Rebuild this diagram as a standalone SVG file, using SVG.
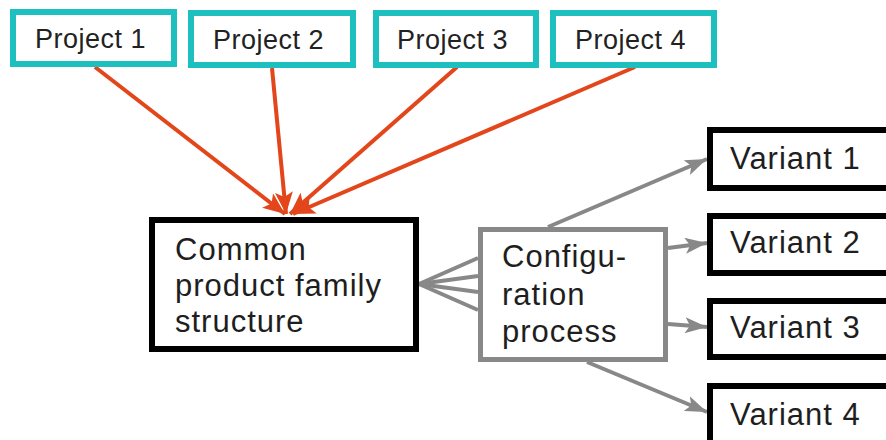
<svg xmlns="http://www.w3.org/2000/svg" width="886" height="440" viewBox="0 0 886 440">
  <style>
    .proj rect { fill: #ffffff; stroke: #1ebfbf; stroke-width: 6; }
    .proj text { font-family: "Liberation Sans", Arial, sans-serif; font-size: 27px; letter-spacing: 0.5px; fill: #222222; }
    .blk rect { fill: #ffffff; stroke: #000000; stroke-width: 6; }
    .cfg rect { fill: #ffffff; stroke: #888888; stroke-width: 5; }
    .big { font-family: "Liberation Sans", Arial, sans-serif; font-size: 31px; letter-spacing: 1px; fill: #1e1e1e; }
    .feed { stroke: #e2461a; stroke-width: 4; fill: none; }
    .flow { stroke: #888888; stroke-width: 4; fill: none; }
  </style>
  <defs>
    <marker id="headOrange" markerUnits="userSpaceOnUse" markerWidth="24" markerHeight="18" refX="22" refY="9" orient="auto">
      <path d="M0,0 L22,9 L0,18 L5,9 Z" fill="#e2461a"/>
    </marker>
    <marker id="headGray" markerUnits="userSpaceOnUse" markerWidth="24" markerHeight="16" refX="22" refY="8" orient="auto">
      <path d="M0,0 L22,8 L0,16 L5,8 Z" fill="#888888"/>
    </marker>
  </defs>

  <rect width="886" height="440" fill="#ffffff"/>

  <!-- connectors -->
  <g id="connectors">
    <line class="feed" x1="95" y1="67" x2="285" y2="214" marker-end="url(#headOrange)"/>
    <line class="feed" x1="272" y1="68" x2="286" y2="214" marker-end="url(#headOrange)"/>
    <line class="feed" x1="457" y1="67" x2="290" y2="214" marker-end="url(#headOrange)"/>
    <line class="feed" x1="635" y1="67" x2="293" y2="214" marker-end="url(#headOrange)"/>

    <!-- fan from configuration process back to the common structure -->
    <line class="flow" x1="478" y1="258" x2="419" y2="284"/>
    <line class="flow" x1="478" y1="276" x2="419" y2="284"/>
    <line class="flow" x1="478" y1="292" x2="419" y2="284"/>
    <line class="flow" x1="478" y1="310" x2="419" y2="284"/>

    <line class="flow" x1="548" y1="227" x2="707" y2="159" marker-end="url(#headGray)"/>
    <line class="flow" x1="668" y1="248" x2="707" y2="243" marker-end="url(#headGray)"/>
    <line class="flow" x1="668" y1="324" x2="707" y2="327" marker-end="url(#headGray)"/>
    <line class="flow" x1="587" y1="362" x2="707" y2="412" marker-end="url(#headGray)"/>
  </g>

  <!-- projects -->
  <g id="project1" class="proj">
    <rect x="13" y="12" width="161" height="52"/>
    <text x="35" y="48">Project 1</text>
  </g>
  <g id="project2" class="proj">
    <rect x="191" y="13" width="162" height="52"/>
    <text x="213" y="49">Project 2</text>
  </g>
  <g id="project3" class="proj">
    <rect x="376" y="13" width="160" height="52"/>
    <text x="397" y="49">Project 3</text>
  </g>
  <g id="project4" class="proj">
    <rect x="553" y="13" width="161" height="52"/>
    <text x="575" y="49">Project 4</text>
  </g>

  <!-- common structure -->
  <g id="common" class="blk">
    <rect x="152" y="220" width="264" height="129"/>
    <text class="big" x="175" y="260">Common</text>
    <text class="big" x="175" y="296">product family</text>
    <text class="big" x="175" y="332">structure</text>
  </g>

  <!-- configuration process -->
  <g id="config" class="cfg">
    <rect x="480.5" y="229.5" width="185" height="130"/>
    <text class="big" x="502" y="267">Configu-</text>
    <text class="big" x="502" y="304.5">ration</text>
    <text class="big" x="502" y="342">process</text>
  </g>

  <!-- variants -->
  <g id="variant1" class="blk">
    <rect x="710" y="130" width="200" height="58"/>
    <text class="big" x="730" y="169">Variant 1</text>
  </g>
  <g id="variant2" class="blk">
    <rect x="710" y="216" width="200" height="57"/>
    <text class="big" x="730" y="253">Variant 2</text>
  </g>
  <g id="variant3" class="blk">
    <rect x="710" y="301" width="200" height="56"/>
    <text class="big" x="730" y="338">Variant 3</text>
  </g>
  <g id="variant4" class="blk">
    <rect x="710" y="386" width="200" height="100"/>
    <text class="big" x="730" y="425">Variant 4</text>
  </g>
</svg>
